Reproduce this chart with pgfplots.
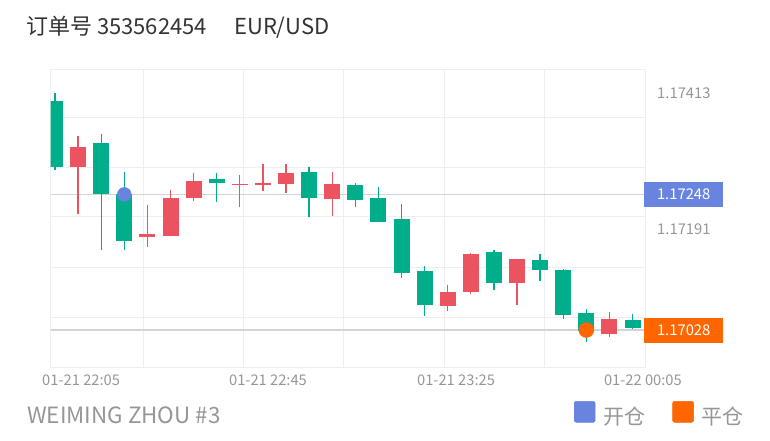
\documentclass[border=0pt]{standalone}
\usepackage{pgfplots}
\pgfplotsset{compat=1.18}
\usepackage{pgfplotstable}
\usepackage{fontspec}
\setmainfont{Noto Sans CJK SC}
\definecolor{cgreen}{RGB}{0,174,140}
\definecolor{cred}{RGB}{236,83,97}
\definecolor{cblue}{RGB}{104,132,222}
\definecolor{corange}{RGB}{255,102,0}
\definecolor{gridc}{RGB}{238,238,238}
\definecolor{refc}{RGB}{212,212,212}
\definecolor{tickc}{RGB}{150,150,150}
\definecolor{titlec}{RGB}{51,51,51}

% rising candles (red): x open high low close
\pgfplotstableread{
x  O       H       L       C
2  1.17293 1.17343 1.17217 1.17325
5  1.17179 1.17231 1.17163 1.17183
6  1.17181 1.17255 1.17180 1.17243
7  1.17242 1.17283 1.17238 1.17270
9  1.17263 1.17279 1.17227 1.17265
10 1.17263 1.17297 1.17254 1.17266
11 1.17265 1.17297 1.17251 1.17283
13 1.17240 1.17284 1.17213 1.17265
18 1.17067 1.17101 1.17059 1.17090
19 1.17089 1.17153 1.17086 1.17152
21 1.17104 1.17144 1.17069 1.17143
25 1.17021 1.17058 1.17017 1.17046
}\upT
% falling candles (green): x open high low close
\pgfplotstableread{
x  O       H       L       C
1  1.17400 1.17413 1.17287 1.17292
3  1.17331 1.17346 1.17158 1.17249
4  1.17249 1.17285 1.17158 1.17173
8  1.17273 1.17283 1.17235 1.17266
12 1.17284 1.17292 1.17212 1.17243
14 1.17263 1.17266 1.17227 1.17239
15 1.17242 1.17260 1.17203 1.17204
16 1.17208 1.17232 1.17112 1.17121
17 1.17124 1.17132 1.17051 1.17069
20 1.17154 1.17158 1.17093 1.17105
22 1.17142 1.17151 1.17108 1.17125
23 1.17125 1.17127 1.17046 1.17052
24 1.17055 1.17062 1.17009 1.17027
26 1.17044 1.17054 1.17029 1.17032
}\downT

\begin{document}
\begin{tikzpicture}
\path[use as bounding box] (0,0) rectangle (770pt,440pt);
\begin{axis}[
  at={(50.7pt,73pt)}, anchor=south west,
  scale only axis, width=594.3pt, height=298pt,
  xmin=0.814, xmax=26.54, ymin=1.16968, ymax=1.174515,
  clip mode=individual,
  scaled y ticks=false,
  axis line style={draw=gridc, line width=1pt},
  xtick={4.81,9.14,13.51,17.84,22.17}, xticklabels={},
  ytick={1.173736,1.172925,1.172114,1.171302,1.170491}, yticklabels={},
  major tick length=0pt,
  grid=major, major grid style={draw=gridc, line width=1pt},
  extra x ticks={2.13,10.22,18.36,26.45},
  extra x tick labels={01-21 22:05,01-21 22:45,01-21 23:25,01-22 00:05},
  extra x tick style={grid=none, major tick length=0pt},
  xticklabel style={anchor=base, inner sep=0pt, yshift=-18pt, text=tickc, font=\fontsize{14.7pt}{17pt}\selectfont},
  extra y ticks={1.17413,1.17191},
  extra y tick labels={1.17413,1.17191},
  extra y tick style={grid=none, major tick length=0pt},
  yticklabel pos=right,
  yticklabel style={anchor=west, inner sep=0pt, xshift=12pt, text=tickc, font=\fontsize{14.8pt}{17pt}\selectfont},
  legend columns=2,
  legend style={at={(axis description cs:1.1666,-0.156)}, anchor=east, draw=none, fill=none, inner sep=0pt,
    font=\fontsize{21pt}{24pt}\selectfont, text=tickc,
    /tikz/every odd column/.append style={column sep=8pt},
    /tikz/every even column/.append style={column sep=27pt},
    nodes={inner sep=0pt}},
]
% reference price lines
\addplot[forget plot, draw=refc, line width=1.5pt] coordinates {(0.814,1.17248) (26.54,1.17248)};
\addplot[forget plot, draw=refc, line width=1.5pt] coordinates {(0.814,1.17028) (26.54,1.17028)};
% wicks
\addplot[forget plot, draw=none, mark=none, error bars/.cd, y dir=plus, y explicit, error mark=none,
  error bar style={draw=cred, line width=1.3pt}]
  table[x=x, y=L, y error plus expr=\thisrow{H}-\thisrow{L}] {\upT};
\addplot[forget plot, draw=none, mark=none, error bars/.cd, y dir=plus, y explicit, error mark=none,
  error bar style={draw=cgreen, line width=1.3pt}]
  table[x=x, y=L, y error plus expr=\thisrow{H}-\thisrow{L}] {\downT};
% bodies
\addplot[forget plot, draw=none, mark=none, error bars/.cd, y dir=plus, y explicit, error mark=none,
  error bar style={draw=cred, line width=16pt, line cap=butt}]
  table[x=x, y=O, y error plus expr=\thisrow{C}-\thisrow{O}] {\upT};
\addplot[forget plot, draw=none, mark=none, error bars/.cd, y dir=plus, y explicit, error mark=none,
  error bar style={draw=cgreen, line width=16pt, line cap=butt}]
  table[x=x, y=C, y error plus expr=\thisrow{O}-\thisrow{C}] {\downT};
% open / close markers
\addplot[only marks, mark=*, mark size=7pt, color=cblue, mark options={draw=cblue, fill=cblue},
  legend image code/.code={\fill[cblue, rounded corners=2pt] (0pt,-6pt) rectangle (21pt,15pt);}]
  coordinates {(4,1.17248)};
\addlegendentry{开仓}
\addplot[only marks, mark=*, mark size=7.5pt, color=corange, mark options={draw=corange, fill=corange},
  legend image code/.code={\fill[corange, rounded corners=2pt] (0pt,-6pt) rectangle (21pt,15pt);}]
  coordinates {(24,1.17028)};
\addlegendentry{平仓}
% price tags
\node[fill=cblue, text=white, minimum width=79pt, minimum height=25pt, inner sep=0pt, anchor=west,
  xshift=-1pt, font=\fontsize{14.8pt}{17pt}\selectfont] at (axis cs:26.54,1.17248) {1.17248};
\node[fill=corange, text=white, minimum width=79pt, minimum height=25pt, inner sep=0pt, anchor=west,
  xshift=-1pt, font=\fontsize{14.8pt}{17pt}\selectfont] at (axis cs:26.54,1.17028) {1.17028};
\end{axis}
\node[anchor=base west, inner sep=0pt, text=titlec, font=\fontsize{22pt}{26pt}\selectfont] at (26pt,405pt) {订单号 353562454};
\node[anchor=base west, inner sep=0pt, text=titlec, font=\fontsize{22pt}{26pt}\selectfont] at (234pt,405pt) {EUR/USD};
\node[anchor=base west, inner sep=0pt, text=tickc, font=\fontsize{22.4pt}{26pt}\selectfont] at (27pt,17pt) {WEIMING ZHOU \#3};
\end{tikzpicture}
\end{document}
